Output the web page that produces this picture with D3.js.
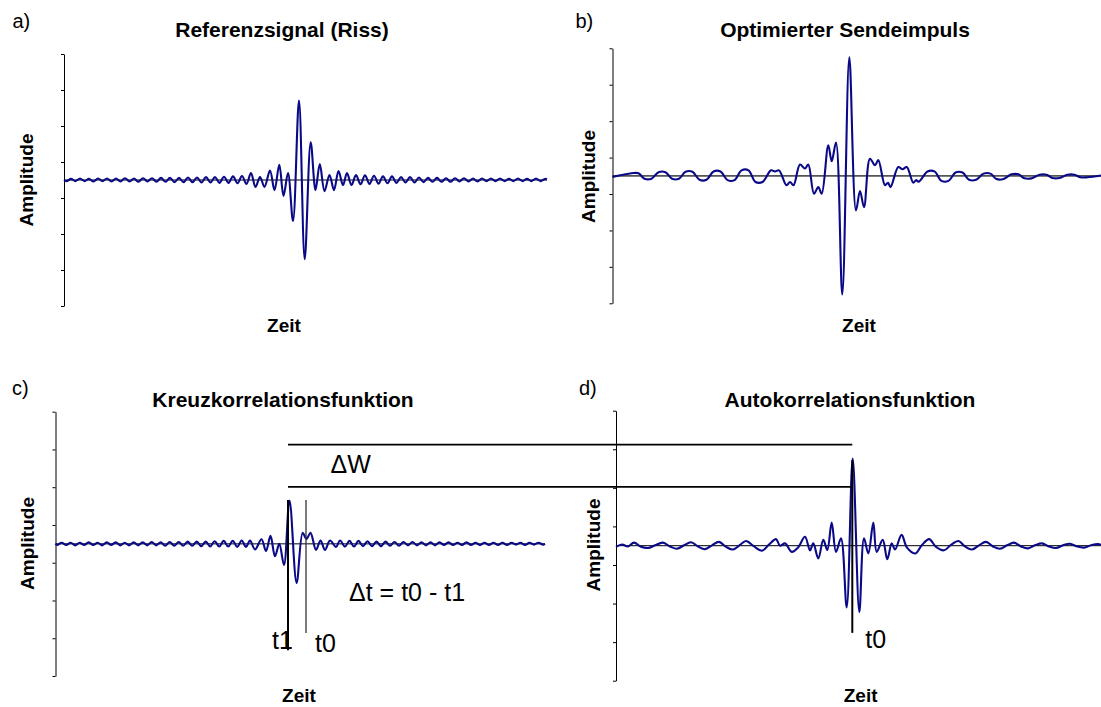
<!DOCTYPE html>
<html><head><meta charset="utf-8">
<script src="https://cdn.jsdelivr.net/npm/d3@7"></script>
<style>
body{margin:0;background:#fff}
svg{display:block}
text{font-family:"Liberation Sans",Arial,Helvetica,sans-serif;fill:#000}
</style>
</head><body>
<svg id="chart" width="1101" height="707"></svg>
<script>
// ---------------- DATA ----------------
const panelLetters = ["a)", "b)", "c)", "d)"];
const panelTitles = ["Referenzsignal (Riss)", "Optimierter Sendeimpuls", "Kreuzkorrelationsfunktion", "Autokorrelationsfunktion"];
const yAxisLabel = "Amplitude";
const xAxisLabel = "Zeit";
const amplitudeTicks = [-3.5, -2.5, -1.5, -0.5, 0.5, 1.5, 2.5, 3.5];
const amplitudeDomain = [-3.5, 3.5];
// record length (samples) of each panel
const recordLengths = [483, 488.5, 489.5, 485];

// a) Referenzsignal (Riss): [sample, amplitude]
const signalA = [
[0,0],[2.5,-0.03],[7,0.03],[11.5,-0.03],[16,0.04],[20.5,-0.03],[25,0.03],[29.5,-0.04],[34,0.04],[38.5,-0.03],[43,0.04],
[47.5,-0.04],[52,0.04],[56.5,-0.04],[61,0.05],[65.5,-0.04],[70,0.04],[74.5,-0.05],[79,0.05],[83.5,-0.04],[88,0.05],
[92.5,-0.05],[97,0.06],[101.5,-0.05],[106,0.06],[110.5,-0.06],[115,0.06],[119.5,-0.06],[124,0.07],[128.5,-0.06],[133,0.07],
[137.5,-0.07],[142,0.08],[146.5,-0.07],[151,0.08],[155.5,-0.08],[160,0.09],[164.5,-0.08],[169,0.1],[173.5,-0.09],
[178,0.11],[182.5,-0.11],[187,0.19],[191.5,-0.19],[196,0.08],[200.5,-0.19],[206,0.26],[210.5,-0.28],[215.3,0.42],[219.5,-0.44],
[224,0.19],[229,-1.14],[235,2.21],[240.7,-2.2],[246.7,1.05],[251.5,-0.28],[255.8,0.44],[260.5,-0.31],[265.5,0.14],[270,-0.28],
[274.5,0.25],[279,-0.14],[283,0.19],[287.5,-0.14],
[292,0.14],[296.5,-0.12],[301,0.13],[305.5,-0.11],[310,0.12],[314.5,-0.1],[319,0.1],[323.5,-0.09],[328,0.1],[332.5,-0.08],
[337,0.08],[341.5,-0.07],[346,0.08],[350.5,-0.07],[355,0.07],[359.5,-0.06],[364,0.06],[368.5,-0.05],[373,0.06],[377.5,-0.05],
[382,0.05],[386.5,-0.05],[391,0.05],[395.5,-0.04],[400,0.05],[404.5,-0.04],[409,0.04],[413.5,-0.04],[418,0.04],[422.5,-0.03],
[427,0.04],[431.5,-0.03],[436,0.04],[440.5,-0.03],[445,0.03],[449.5,-0.03],[454,0.04],[458.5,-0.03],[463,0.03],[467.5,-0.03],
[472,0.04],[476.5,-0.03],[481,0.03],[483,0.02]
];

// b) Optimierter Sendeimpuls
const signalB = [
[0,-0.03],[19,0.07],[26,0.07],[32,-0.08],[39,-0.08],[46,0.1],[53,0.1],[59.5,-0.08],[66.5,-0.08],[73,0.11],[80,0.11],
[87,-0.11],[94,-0.11],[101,0.12],[108,0.12],[115,-0.12],[122,-0.12],[129,0.15],[136,0.15],[143,-0.17],[150,-0.17],
[158.5,0.15],[162.5,0.12],[166.5,0.15],[174,-0.26],[177.5,-0.17],[181,-0.26],[187.5,0.31],[192.5,0.2],[195.8,0.31],
[201.5,-0.49],[205.8,-0.31],[209.2,-0.49],[215.8,0.84],[219.2,0.4],[223.5,0.91],[229.8,-3.26],[236.8,3.25],
[243.5,-0.95],[247.5,-0.42],[251.5,-0.86],[257.5,0.47],[262.5,0.29],[265.8,0.43],[272.5,-0.26],[275.5,-0.19],[278,-0.31],
[285.8,0.24],[290,0.18],[294.2,0.24],[300.8,-0.19],[303.5,-0.12],[306.3,-0.16],[315,0.12],[322,0.12],[329,-0.14],[336,-0.14],
[343,0.09],[350,0.09],[356.5,-0.11],[363.5,-0.11],[371,0.06],[378,0.06],[384,-0.09],[391,-0.09],[399,0.04],[406,0.04],
[412,-0.07],[419,-0.07],[427,0.03],[434,0.03],[440,-0.06],[447,-0.06],[455,0.03],[462,0.03],[468,-0.04],[475,-0.04],[488.5,0.01]
];

// c) Kreuzkorrelationsfunktion
const signalC = [
[0,0],[1.7,-0.03],[6.2,0.03],[10.7,-0.03],[15.2,0.03],[19.7,-0.04],[24.2,0.03],[28.7,-0.03],[33.2,0.04],[37.7,-0.03],[42.2,0.03],
[46.7,-0.04],[51.2,0.04],[55.7,-0.03],[60.2,0.04],[64.7,-0.04],[69.2,0.03],[73.7,-0.04],[78.2,0.04],[82.7,-0.04],[87.2,0.04],
[91.7,-0.04],[96.2,0.05],[100.7,-0.04],[105.2,0.04],[109.7,-0.05],[114.2,0.05],[118.7,-0.05],[123.2,0.05],[127.7,-0.05],[132.2,0.06],
[136.7,-0.05],[141.2,0.06],[145.7,-0.06],[150.2,0.06],[154.7,-0.07],[159.2,0.07],[163.7,-0.07],[168.2,0.08],[172.7,-0.07],[177.2,0.08],
[181.7,-0.08],[186.2,0.09],[190.5,-0.08],[194.5,0.09],[199.5,-0.15],[206,0.12],[210.5,-0.19],[215,0.21],[219.5,-0.33],[223.8,0.0],
[228.5,-0.56],[234,1.15],[241.1,-1.04],[247.2,0.29],[251,0.13],[255,0.29],[260.5,-0.16],[265,0.09],[269.5,-0.16],[274.5,0.09],
[280.5,-0.08],[284.5,0.09],[289.5,-0.07],
[294,0.08],[298.5,-0.07],[303,0.08],[307.5,-0.06],[312,0.07],[316.5,-0.06],[321,0.06],[325.5,-0.06],[330,0.06],[334.5,-0.05],
[339,0.05],[343.5,-0.05],[348,0.05],[352.5,-0.04],[357,0.05],[361.5,-0.04],[366,0.04],[370.5,-0.04],[375,0.04],[379.5,-0.04],
[384,0.04],[388.5,-0.03],[393,0.04],[397.5,-0.03],[402,0.03],[406.5,-0.03],[411,0.04],[415.5,-0.03],[420,0.03],[424.5,-0.03],
[429,0.03],[433.5,-0.03],[438,0.03],[442.5,-0.03],[447,0.03],[451.5,-0.03],[456,0.03],[460.5,-0.02],[465,0.03],[469.5,-0.03],
[474,0.03],[478.5,-0.02],[483,0.03],[487.5,-0.02],[489.5,0.0]
];

// d) Autokorrelationsfunktion
const signalD = [
[0,-0.03],[6,0.03],[12,-0.02],[18,0.08],[25,-0.03],[32,-0.06],[39,0.01],[47,0.08],[54,-0.02],[61,-0.08],[68,0.01],
[75,0.09],[82,-0.02],[89,-0.09],[96,0.01],[103,0.1],[110,-0.03],[117,-0.1],[124,0.02],[130,0.12],[138,-0.02],
[146,-0.13],[153,0.03],[160,0.17],[164,0.0],[169,0.06],[175.7,-0.16],[182,-0.05],[189,0.23],[194,-0.12],[197.3,0.06],
[202.3,-0.33],[207.3,0.15],[211.3,-0.11],[215.7,0.6],[220,-0.16],[225,0.19],[230.7,-1.6],[236.7,2.26],[243.3,-1.72],
[248,0.19],[252.3,-0.2],[257.3,0.6],[260.7,-0.16],[266.7,0.15],[271.3,-0.35],[275.7,0.06],[279,-0.1],[285.6,0.28],
[291,-0.05],[299.4,-0.2],[306,0.02],[313.2,0.17],[320,-0.03],[328,-0.12],[335,0.02],[342.6,0.12],[349,-0.02],[356,-0.1],
[363,0.01],[370,0.1],[377,-0.02],[384,-0.08],[391,0.01],[398,0.08],[405,-0.02],[412,-0.07],[419,0.01],[426,0.06],
[433,-0.02],[440,-0.06],[447,0.01],[454,0.05],[461,-0.02],[468,-0.05],[475,0.01],[482,0.04],[485,0.02]
];

// annotation values (c: cross-correlation, d: auto-correlation)
const t1Cross = 232.5;        // sample of t1 in c)
const t0Cross = 250.5;        // sample of t0 in c)
const t0Auto = 236.3;         // sample of t0 in d)
const deltaWLevels = [2.63, 1.51];   // amplitude levels of the ΔW bracket lines
const t1Span = [1.16, -2.82];
const t0CrossSpan = [1.16, -2.36];
const t0AutoSpan = [2.22, -2.26];
const annotationTexts = { dW: "\u0394W", dt: "\u0394t = t0 - t1", t1: "t1", t0: "t0" };

// ---------------- LAYOUT ----------------
const layout = [
  {x0:64,    x1:547,  yTop:54,    yBot:306,   titleX:282,   titleY:37,    letX:12.5, letY:28,  ampX:33,    ampY:180,   zeitX:284,   zeitY:332,   zeroColor:"#000", zeroW:1},
  {x0:612.5, x1:1101, yTop:48.3,  yBot:303.3, titleX:845,   titleY:36.7,  letX:575.5,letY:28,  ampX:595,   ampY:176.5, zeitX:859,   zeitY:331.7, zeroColor:"#555", zeroW:1.8},
  {x0:55.5,  x1:545,  yTop:411.7, yBot:676,   titleX:283,   titleY:406.7, letX:12,   letY:395, ampX:33.6,  ampY:543.5, zeitX:299,   zeitY:701.7, zeroColor:"#000", zeroW:1},
  {x0:616,   x1:1101, yTop:410.7, yBot:680.7, titleX:850,   titleY:406.7, letX:579,  letY:395, ampX:599.7, ampY:545,   zeitX:860.6, zeitY:701.7, zeroColor:"#000", zeroW:1}
];
const signals = [signalA, signalB, signalC, signalD];

const svg = d3.select("#chart");
const scales = [];

layout.forEach((L, i) => {
  const x = d3.scaleLinear().domain([0, recordLengths[i]]).range([L.x0, L.x1]);
  const y = d3.scaleLinear().domain(amplitudeDomain).range([L.yBot, L.yTop]);
  scales.push({x, y});
  const g = svg.append("g");

  // y axis
  g.append("g")
    .attr("transform", `translate(${L.x0},0)`)
    .call(d3.axisLeft(y).tickValues(amplitudeTicks).tickSize(3).tickSizeOuter(0).tickFormat(""))
    .call(s => s.selectAll("path,line").attr("stroke", "#000").attr("stroke-width", 1));

  // zero line
  g.append("line")
    .attr("x1", x(0)).attr("x2", x(recordLengths[i]))
    .attr("y1", y(0)).attr("y2", y(0))
    .attr("stroke", L.zeroColor).attr("stroke-width", L.zeroW);

  // signal
  const line = d3.line().x(d => x(d[0])).y(d => y(d[1])).curve(d3.curveCatmullRom.alpha(0.5));
  g.append("path").datum(signals[i])
    .attr("d", line).attr("fill", "none")
    .attr("stroke", "#0a0a88").attr("stroke-width", 2.1).attr("stroke-linejoin", "round");

  // texts
  g.append("text").attr("x", L.titleX).attr("y", L.titleY).attr("text-anchor", "middle")
    .attr("font-size", 21).attr("font-weight", "bold").text(panelTitles[i]);
  g.append("text").attr("x", L.letX).attr("y", L.letY).attr("font-size", 20).text(panelLetters[i]);
  g.append("text").attr("transform", `translate(${L.ampX},${L.ampY}) rotate(-90)`).attr("text-anchor", "middle")
    .attr("font-size", 19).attr("font-weight", "bold").text(yAxisLabel);
  g.append("text").attr("x", L.zeitX).attr("y", L.zeitY).attr("text-anchor", "middle")
    .attr("font-size", 19).attr("font-weight", "bold").text(xAxisLabel);
});

// ---------------- ANNOTATIONS ----------------
const C = scales[2], D = scales[3];
const ann = svg.append("g").attr("stroke", "#000");
deltaWLevels.forEach(lv => {
  ann.append("line")
    .attr("x1", C.x(t1Cross)).attr("x2", D.x(t0Auto))
    .attr("y1", C.y(lv)).attr("y2", C.y(lv)).attr("stroke-width", 1.8);
});
ann.append("line").attr("x1", C.x(t1Cross)).attr("x2", C.x(t1Cross))
  .attr("y1", C.y(t1Span[0])).attr("y2", C.y(t1Span[1])).attr("stroke-width", 2);
ann.append("line").attr("x1", C.x(t0Cross)).attr("x2", C.x(t0Cross))
  .attr("y1", C.y(t0CrossSpan[0])).attr("y2", C.y(t0CrossSpan[1])).attr("stroke-width", 1.3).attr("stroke", "#333");
ann.append("line").attr("x1", D.x(t0Auto)).attr("x2", D.x(t0Auto))
  .attr("y1", D.y(t0AutoSpan[0])).attr("y2", D.y(t0AutoSpan[1])).attr("stroke-width", 2);

const tg = svg.append("g").attr("font-size", 25);
tg.append("text").attr("x", C.x(t1Cross) + 42.5).attr("y", C.y(deltaWLevels[1]) - 14.3).text(annotationTexts.dW);
tg.append("text").attr("x", C.x(t0Cross) + 43).attr("y", C.y(0) + 57).text(annotationTexts.dt);
tg.append("text").attr("x", C.x(t1Cross) - 16).attr("y", C.y(0) + 105.5).text(annotationTexts.t1);
tg.append("text").attr("x", C.x(t0Cross) + 9).attr("y", C.y(0) + 108).text(annotationTexts.t0);
tg.append("text").attr("x", D.x(t0Auto) + 13).attr("y", D.y(0) + 102.5).text(annotationTexts.t0);
</script>
</body></html>
